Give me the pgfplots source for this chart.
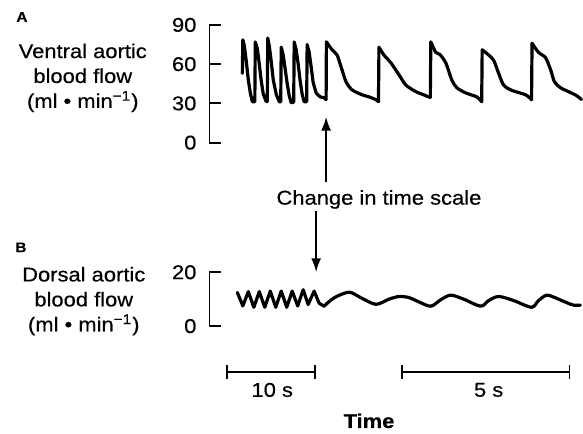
\documentclass[border=0pt]{standalone}
\usepackage{fontspec}
\setmainfont[FakeStretch=1.1, FakeBold=0.4]{Liberation Sans}
\usepackage{pgfplots}
\pgfplotsset{compat=1.18}
\usetikzlibrary{arrows.meta}
\begin{document}
\begin{tikzpicture}
\pgfplotsset{
  panel/.style={
    scale only axis, width=186.5pt, xmin=210, xmax=583,
    axis x line=none, axis y line*=left,
    tick align=inside, major tick length=6pt,
    tick style={line width=0.9pt, black},
    axis line style={line width=0.9pt},
    clip=false,
    /pgf/number format/assume math mode=true,
    tick label style={font=\fontsize{10}{12}\selectfont},
    yticklabel style={xshift=-3pt},
  },
  trace/.style={black, line width=1.6pt, line join=round, line cap=round, no markers},
  beat/.style={trace, smooth, tension=0.45},
}
\begin{scope}[x=0.5pt,y=-0.5pt]
\path[use as bounding box] (0,0) rectangle (583,435);
% labels
\node[font=\fontsize{7}{8}\selectfont\bfseries] at (22,17) {A};
\node[font=\fontsize{7}{8}\selectfont\bfseries] at (21,248) {B};
\node[align=center, font=\fontsize{10}{12.5}\selectfont] at (83,78) {Ventral aortic\\blood flow\\(ml • min\textsuperscript{−1})};
\node[align=center, font=\fontsize{10}{12.5}\selectfont] at (84,302) {Dorsal aortic\\blood flow\\(ml • min\textsuperscript{−1})};
% arrows and caption
\draw[line width=0.9pt, -{Latex[length=7pt,width=5pt]}] (327,182) -- (327,117);
\draw[line width=0.9pt, -{Latex[length=7pt,width=5pt]}] (317,212) -- (317,273);
\node[font=\fontsize{10}{12}\selectfont] at (380,200) {Change in time scale};
% time bars
\draw[line width=0.9pt, {Bar[width=7pt]}-{Bar[width=7pt]}] (227,373) -- (317,373);
\draw[line width=0.9pt, {Bar[width=7pt]}-{Bar[width=7pt]}] (402,373) -- (572,373);
\node[font=\fontsize{10}{12}\selectfont] at (273,391) {10 s};
\node[font=\fontsize{10}{12}\selectfont] at (490,391) {5 s};
\node[font=\fontsize{10}{12}\selectfont\bfseries] at (370,422) {Time};
\end{scope}

\begin{axis}[panel, at={(105pt,-71.5pt)}, anchor=south west,
  height=59pt, ymin=0, ymax=90, ytick={0,30,60,90}]
% fast beats (10 s scale)
\addplot[trace] coordinates {
(243,53) (243.5,78.6) (245,74) (247,62) (249,48) (251,38) (253,31.3)
(255.5,31.3) (256,77) (258,72) (260,60) (262,47) (264,37) (267,31.3)
(268,31.5) (268.5,80) (270,74) (272,62) (274,48) (277,37) (280,31.3)
(281.5,31.3) (282,73) (284,67) (286,56) (288,45) (290,36) (292,30.5)
(294.5,31) (295,77) (297,71) (299,60) (301,47) (303,37) (305,31.3)
(307.5,31.3) (308,75) (310,69) (312,58) (314,46) (317,38) (321,35) (325,34.3) (327,32.8)
};
% slow beats (5 s scale): upstrokes
\addplot[trace] coordinates {(327,32.8) (327.3,77)};
\addplot[trace] coordinates {(379.5,31.3) (380,73)};
\addplot[trace] coordinates {(431.5,34.5) (432,77)};
\addplot[trace] coordinates {(483,31.3) (483.5,71)};
\addplot[trace] coordinates {(533,32.8) (533.5,76)};
% slow beats: declines
\addplot[beat] coordinates {(327.3,77) (333,71) (338,67) (342,58) (347,46.5) (353,40.4) (363,36.6) (370,35) (377,32.8) (379.5,31.3)};
\addplot[beat] coordinates {(380,73) (385,67) (392,61) (400,52) (407,44) (417,39) (425,36.5) (431.5,34.5)};
\addplot[beat] coordinates {(432,77) (437,69) (441,67.5) (447,61) (453,48) (458,42) (467,38) (478,35) (483,31.3)};
\addplot[beat] coordinates {(483.5,71) (490,67) (495,63) (500,53) (505,44) (513,40) (527,36.6) (533,32.8)};
\addplot[beat] coordinates {(533.5,76) (540,69) (547,65) (552,56) (556,46.5) (562,42) (570,39) (578,36) (583,33)};
\end{axis}

\begin{axis}[panel, at={(105pt,-163.5pt)}, anchor=south west,
  height=27pt, ymin=0, ymax=20, ytick={0,20}]
\addplot[trace] coordinates {
(238,12.5) (243.5,7.5) (249,12.8) (254.5,7) (260,12.8) (265.5,7) (271,13) (276.5,7)
(282,13) (287.5,7) (293,13) (298.5,7.5) (304,13.5) (309,8) (315,13) (320,8.5) (325,7.4)
};
\addplot[trace, smooth, tension=0.5] coordinates {
(325,7.4) (335,10.5) (350,12.6) (362,10.5) (377,8.1) (390,10) (400,11) (410,10.6) (420,9)
(432,7.4) (442,9.8) (452,11.5) (465,10) (482,7.4) (490,9.5) (500,11) (515,9.5) (533,7)
(540,9.5) (548,11.5) (555,10.8) (567,8.9) (575,7.8) (582,7.8)
};
\end{axis}
\end{tikzpicture}
\end{document}
